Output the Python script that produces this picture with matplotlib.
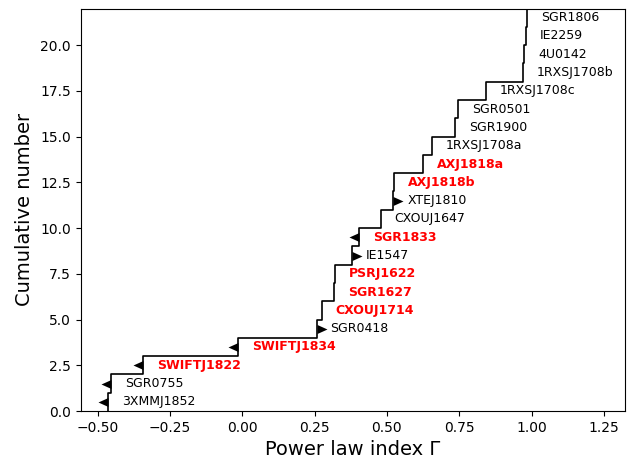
import numpy as np
import matplotlib
matplotlib.use("Agg")
import matplotlib.pyplot as plt
from matplotlib.path import Path

# sources sorted by power law index
names = ["3XMMJ1852", "SGR0755", "SWIFTJ1822", "SWIFTJ1834", "SGR0418",
         "CXOUJ1714", "SGR1627", "PSRJ1622", "IE1547", "SGR1833",
         "CXOUJ1647", "XTEJ1810", "AXJ1818b", "AXJ1818a", "1RXSJ1708a",
         "SGR1900", "SGR0501", "1RXSJ1708c", "1RXSJ1708b", "4U0142",
         "IE2259", "SGR1806"]
gamma = [-0.465, -0.454, -0.342, -0.014, 0.257,
         0.274, 0.318, 0.322, 0.378, 0.405,
         0.479, 0.522, 0.524, 0.626, 0.655,
         0.735, 0.747, 0.842, 0.969, 0.974,
         0.980, 0.985]
# '<' upper limit, '>' lower limit, '' measured
limits = ["<", "<", "<", "<", ">",
          "", "", "", ">", "<",
          "", ">", "", "", "",
          "", "", "", "", "",
          "", ""]
# transient magnetars in red
transient = [0, 0, 1, 1, 0,
             1, 1, 1, 0, 1,
             0, 0, 1, 1, 0,
             0, 0, 0, 0, 0,
             0, 0]

gamma = np.array(gamma)
n = np.arange(1, len(gamma) + 1)

# triangles with their base on the step
left_tri = Path([(0, -0.9), (0, 0.9), (-2, 0), (0, -0.9)], closed=True)
right_tri = Path([(0, -0.9), (0, 0.9), (2, 0), (0, -0.9)], closed=True)

fig = plt.figure(figsize=(6.36, 4.58), dpi=100)
ax = fig.add_axes([0.1266, 0.1026, 0.8561, 0.8788])

ax.step(np.r_[gamma[0], gamma], np.r_[0, n], where="post", color="black", lw=1.2)

for i, (name, g, lim, tr) in enumerate(zip(names, gamma, limits, transient)):
    y = i + 0.5
    if lim == "<":
        ax.plot(g, y, marker=left_tri, color="black", ms=14.4, mew=0)
    elif lim == ">":
        ax.plot(g, y, marker=right_tri, color="black", ms=14.4, mew=0)
    if tr:
        ax.text(g + 0.048, y, name, color="red", fontweight="bold",
                fontsize=9, ha="left", va="center")
    else:
        ax.text(g + 0.048, y, name, color="black", fontsize=9,
                ha="left", va="center")

ax.set_xlim(-0.559, 1.323)
ax.set_ylim(0, 22)
ax.set_xticks([-0.5, -0.25, 0, 0.25, 0.5, 0.75, 1.0, 1.25])
ax.set_yticks([0, 2.5, 5, 7.5, 10, 12.5, 15, 17.5, 20])
ax.set_xlabel("Power law index Γ", fontsize=14)
ax.set_ylabel("Cumulative number", fontsize=14)

fig.savefig("out.png", dpi=100)
